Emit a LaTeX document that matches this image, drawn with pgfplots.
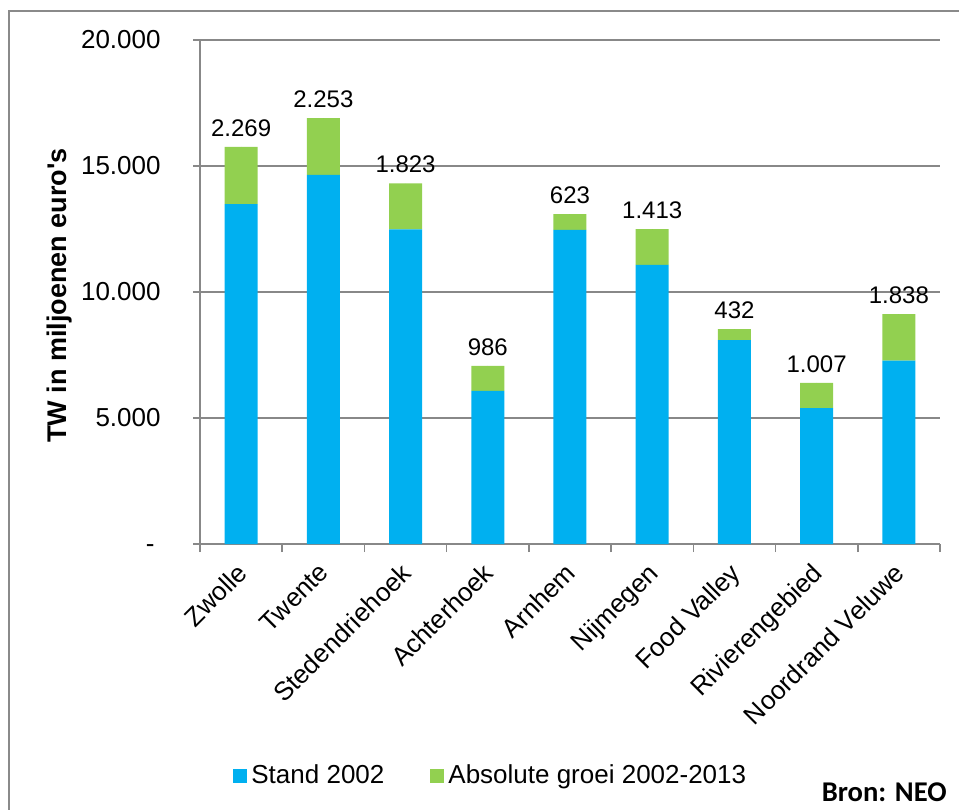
\documentclass[border=0pt]{standalone}
\usepackage{pgfplots}
\pgfplotsset{compat=1.18}
\usepackage{pgfplotstable}
\usepackage{fontspec}
\setmainfont{Liberation Sans}
\newfontfamily\arialplain{Liberation Sans}
\newfontfamily\carlito{Carlito}
\definecolor{blu}{HTML}{00B0F0}
\definecolor{grn}{HTML}{92D050}
\definecolor{axg}{HTML}{888888}
\definecolor{frg}{HTML}{8A8A8A}

\pgfplotstableread{
x base grow tot lbl
0 13490 2269 15759 2.269
1 14650 2253 16903 2.253
2 12490 1823 14313 1.823
3 6080 986 7066 986
4 12470 623 13093 623
5 11080 1413 12493 1.413
6 8090 432 8522 432
7 5390 1007 6397 1.007
8 7280 1838 9118 1.838
}\datatab

\pgfplotsset{
  common/.style={
    at={(100pt,132.5pt)}, anchor=south west,
    width=370pt, height=252pt, scale only axis,
    xmin=-0.5, xmax=8.5, ymin=0, ymax=20000,
  }
}

\begin{document}
\begin{tikzpicture}
\useasboundingbox (0pt,0pt) rectangle (479.5pt,404.5pt);
\clip (0pt,0pt) rectangle (479.5pt,404.5pt);
\draw[frg, line width=0.75pt] (4.5pt,-5pt) rectangle (485pt,399pt);
\begin{axis}[
  common,
  ybar stacked, bar width=16.5pt,
  axis x line*=bottom, axis y line*=left,
  axis line style={draw=axg, line width=0.75pt},
  ymajorgrids, grid style={draw=axg, line width=0.75pt},
  scaled y ticks=false,
  ytick={0,5000,10000,15000,20000},
  yticklabels={{\vphantom{0}-\hspace*{3pt}},5.000,10.000,15.000,20.000},
  yticklabel style={inner sep=0pt, xshift=-16pt, font=\fontsize{13}{15}\selectfont},
  ytick style={draw=axg, line width=0.75pt},
  tick align=outside, major tick length=3.5pt,
  xtick={0,...,8},
  xticklabels={Zwolle,Twente,Stedendriehoek,Achterhoek,Arnhem,Nijmegen,Food Valley,Rivierengebied,Noordrand Veluwe},
  xtick style={draw=none},
  xticklabel style={yshift=-5pt, xshift=-3pt, rotate=45, anchor=north east, inner sep=0pt, font=\fontsize{13}{15}\selectfont},
  extra x ticks={-0.5,0.5,...,8.5}, extra x tick labels={},
  extra x tick style={xtick style={draw=axg, line width=0.75pt}, major tick length=4pt},
  legend style={at={(0.0446,-0.46)}, anchor=west, draw=none, fill=none,
    legend columns=2, inner sep=0pt, font=\fontsize{13}{15}\selectfont,
    /tikz/every even column/.append style={column sep=21pt}},
  legend cell align=left,
]
\addplot[fill=blu, draw=none,
  legend image code/.code={\fill[blu] (0pt,-3.5pt) rectangle (7pt,3.5pt);}]
  table[x=x, y=base]{\datatab};
\addlegendentry{Stand 2002}
\addplot[fill=grn, draw=none,
  legend image code/.code={\fill[grn] (0pt,-3.5pt) rectangle (7pt,3.5pt);}]
  table[x=x, y=grow]{\datatab};
\addlegendentry{Absolute groei 2002-2013}
\end{axis}
\begin{axis}[common, hide axis]
\addplot[only marks, mark=*, mark size=0pt, mark options={draw=none, fill=none},
  nodes near coords, point meta=explicit symbolic,
  nodes near coords style={font=\fontsize{12}{14}\selectfont, anchor=south, inner sep=0pt, yshift=5pt, text=black}]
  table[x=x, y=tot, meta=lbl]{\datatab};
\end{axis}
\node[rotate=90, font=\arialplain\bfseries\fontsize{13.5}{16}\selectfont] at (30pt,256.75pt) {TW in miljoenen euro's};
\node[anchor=base east, inner sep=0pt, font=\carlito\bfseries\fontsize{14.3}{17}\selectfont] at (473.5pt,3.5pt) {Bron: NEO};
\end{tikzpicture}
\end{document}
